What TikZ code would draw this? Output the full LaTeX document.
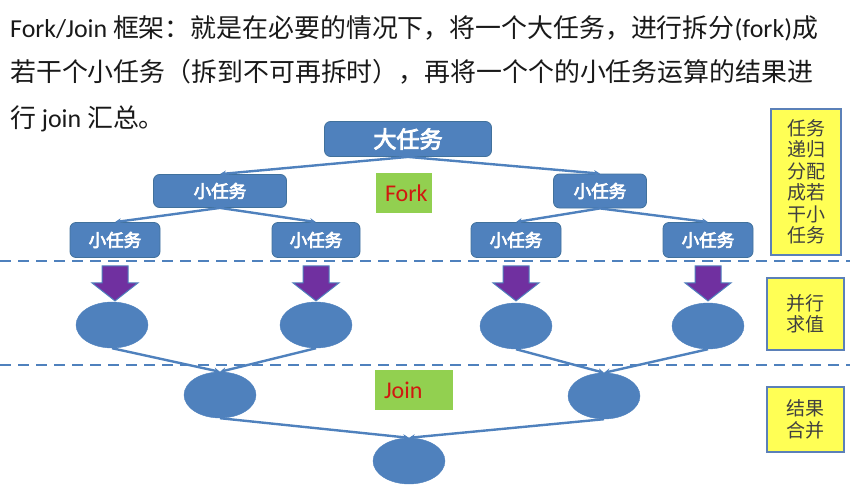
\documentclass[tikz,border=0pt]{standalone}
\usepackage{fontspec}
\setmainfont{Noto Sans CJK SC}
\newfontfamily\lat{Carlito}
\newfontfamily\zhbold{Noto Sans CJK SC}[FakeBold=4]
\usetikzlibrary{shapes.geometric,arrows.meta}

\definecolor{taskblue}{HTML}{4F81BD}
\definecolor{taskedge}{HTML}{41719C}
\definecolor{arrowpurple}{HTML}{7030A0}
\definecolor{labelgreen}{HTML}{92D050}
\definecolor{labelred}{HTML}{D01810}
\definecolor{noteyellow}{HTML}{FFFF55}
\definecolor{noteedge}{HTML}{5B80B8}
\definecolor{notetext}{HTML}{404040}

\tikzset{
    task/.style={draw=taskedge, line width=0.8pt, fill=taskblue, rounded corners=6pt,
        text=white, inner sep=0pt, font=\zhbold\fontsize{17.5}{18}\selectfont},
    calc/.style={ellipse, fill=taskblue, draw=taskblue, inner sep=0pt,
        minimum width=72pt, minimum height=46pt},
    edge/.style={draw=taskblue, line width=2.4pt, -{Stealth[length=6pt,width=6pt]}},
    stage/.style={fill=labelgreen, text=labelred, inner xsep=9pt, inner ysep=0pt,
        align=left, minimum height=40pt, font=\lat\fontsize{24}{24}\selectfont},
    note/.style={draw=noteedge, line width=2pt, fill=noteyellow, text=notetext,
        inner sep=0pt, align=center, font=\fontsize{19}{21.5}\selectfont},
    fatarrow/.style={fill=arrowpurple, draw=taskblue, line width=1pt, line join=miter},
    split/.style={draw=taskblue, line width=2pt, dash pattern=on 11pt off 7pt}
}

\begin{document}
\begin{tikzpicture}[x=1pt, y=-1pt]
    \useasboundingbox (0,0) rectangle (850,492);

    \begin{scope}[font=\fontsize{25.9}{44.5}\selectfont, text=black!90]
        \node[anchor=base west, inner sep=0pt] (title1) at (10,38) {{\lat Fork/Join} 框架：就是在必要的情况下，将一个大任务，进行拆分{\lat (fork)}成};
        \node[anchor=base west, inner sep=0pt] (title2) at (10,82) {若干个小任务（拆到不可再拆时），再将一个个的小任务运算的结果进};
        \node[anchor=base west, inner sep=0pt] (title3) at (10,127) {行 {\lat join} 汇总。};
    \end{scope}

    \draw[split] (0,261) -- (850,261);
    \draw[split] (0,365) -- (850,365);

    \node[task, minimum width=167pt, minimum height=35pt, font=\zhbold\fontsize{23}{24}\selectfont] (bigtask) at (408,139) {大任务};
    \node[task, minimum width=133pt, minimum height=33pt] (sub1) at (220,191) {小任务};
    \node[task, minimum width=93pt, minimum height=34pt] (sub2) at (600,191) {小任务};
    \node[task, minimum width=90pt, minimum height=35pt] (leaf1) at (115,240) {小任务};
    \node[task, minimum width=88pt, minimum height=35pt] (leaf2) at (316,240) {小任务};
    \node[task, minimum width=90pt, minimum height=35pt] (leaf3) at (516,240) {小任务};
    \node[task, minimum width=90pt, minimum height=35pt] (leaf4) at (708,240) {小任务};

    \node[stage, text width=38pt, inner xsep=9pt] (fork) at (404,193) {Fork};
    \node[stage, text width=60pt] (join) at (414,390) {Join};

    \node[calc] (calc1) at (112,325) {};
    \node[calc] (calc2) at (316,325) {};
    \node[calc] (calc3) at (516,326) {};
    \node[calc] (calc4) at (708,326) {};
    \node[calc] (merge1) at (220,395) {};
    \node[calc] (merge2) at (604,396) {};
    \node[calc] (result) at (409,461) {};

    \draw[edge] (bigtask.south) -- (sub1.north);
    \draw[edge] (bigtask.south) -- (sub2.north);
    \draw[edge] (sub1.south) -- (leaf1.north);
    \draw[edge] (sub1.south) -- (leaf2.north);
    \draw[edge] (sub2.south) -- (leaf3.north);
    \draw[edge] (sub2.south) -- (leaf4.north);

    \foreach \n in {leaf1,leaf2,leaf3,leaf4}
        \draw[fatarrow] (\n.south) ++(-13,8) -- ++(26,0) -- ++(0,17) -- ++(10,0)
            -- ++(-23,18) -- ++(-23,-18) -- ++(10,0) -- cycle;

    \draw[edge] (calc1.south) -- (merge1.north);
    \draw[edge] (calc2.south) -- (merge1.north);
    \draw[edge] (calc3.south) -- (merge2.north);
    \draw[edge] (calc4.south) -- (merge2.north);
    \draw[edge] (merge1.south) -- (result.north);
    \draw[edge] (merge2.south) -- (result.north);

    \node[note, minimum width=70pt, minimum height=146pt] (note1) at (806,182) {任务\\递归\\分配\\成若\\干小\\任务};
    \node[note, minimum width=77pt, minimum height=72pt] (note2) at (805.5,314) {并行\\求值};
    \node[note, minimum width=77pt, minimum height=65pt] (note3) at (805.5,419.5) {结果\\合并};
\end{tikzpicture}
\end{document}
